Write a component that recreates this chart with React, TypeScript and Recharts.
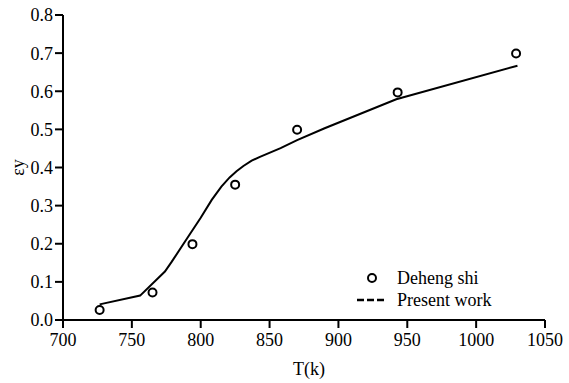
import {
  ComposedChart,
  Line,
  Scatter,
  XAxis,
  YAxis,
} from "recharts";

// measured points (Deheng shi)
const expT = [726.6, 765, 794, 825, 870, 943, 1029];
const expEy = [0.026, 0.072, 0.199, 0.355, 0.499, 0.597, 0.699];

// model curve (Present work)
const modelT = [726.6, 756, 774, 779, 791, 800, 808, 815, 821, 826, 831, 837, 843, 858, 870, 890, 942, 1030];
const modelEy = [0.041, 0.064, 0.127, 0.153, 0.219, 0.268, 0.315, 0.35, 0.374, 0.39, 0.404, 0.418, 0.428, 0.451, 0.472, 0.503, 0.579, 0.667];

const xTicks = [700, 750, 800, 850, 900, 950, 1000, 1050];
const yTicks = [0, 0.1, 0.2, 0.3, 0.4, 0.5, 0.6, 0.7, 0.8];

const expData = expT.map((t, i) => ({ t, ey: expEy[i] }));
const modelData = modelT.map((t, i) => ({ t, fit: modelEy[i] }));

const font = "Times New Roman, Liberation Serif, serif";
const tickStyle = { fill: "#000", fontSize: 18, fontFamily: font };

function LegendBox() {
  // box top-left sits at (357, 260)
  return (
    <svg width={180} height={60} style={{ position: "absolute", left: 357, top: 260, overflow: "visible" }}>
      <circle cx={15} cy={18} r={4} fill="#fff" stroke="#000" strokeWidth={2} />
      <text x={40} y={24} fontSize={18} fill="#000" fontFamily={font}>
        Deheng shi
      </text>
      {/* dashed marker, as drawn in the original legend */}
      <line x1={0} y1={40} x2={29} y2={40} stroke="#000" strokeWidth={2.5} strokeDasharray="7 3" />
      <text x={40} y={46} fontSize={18} fill="#000" fontFamily={font}>
        Present work
      </text>
    </svg>
  );
}

export default function App() {
  return (
    <div style={{ position: "absolute", left: 0, top: 0, width: 569, height: 383, background: "#fff", fontFamily: font }}>
      <ComposedChart
        width={569}
        height={383}
        margin={{ top: 15, right: 24, bottom: 0, left: 0 }}
      >
        <XAxis
          type="number"
          dataKey="t"
          domain={[700, 1050]}
          ticks={xTicks}
          interval={0}
          allowDuplicatedCategory={false}
          height={63}
          tick={tickStyle}
          tickSize={8}
          tickMargin={5}
          axisLine={{ stroke: "#000", strokeWidth: 2 }}
          tickLine={{ stroke: "#000", strokeWidth: 2 }}
          label={{ value: "T(k)", position: "insideBottom", offset: 8, dx: 5, fill: "#000", fontSize: 18, fontFamily: font }}
        />
        <YAxis
          type="number"
          domain={[0, 0.8]}
          ticks={yTicks}
          interval={0}
          width={63}
          tick={tickStyle}
          tickSize={8}
          tickMargin={2}
          tickFormatter={(v: number) => v.toFixed(1)}
          axisLine={{ stroke: "#000", strokeWidth: 2 }}
          tickLine={{ stroke: "#000", strokeWidth: 2 }}
          label={{ value: "εy", angle: -90, position: "center", dx: -14, fill: "#000", fontSize: 18, fontFamily: font }}
        />
        <Line
          data={modelData}
          dataKey="fit"
          type="linear"
          stroke="#000"
          strokeWidth={2}
          dot={false}
          activeDot={false}
          isAnimationActive={false}
          name="Present work"
        />
        <Scatter
          data={expData}
          dataKey="ey"
          shape={(p: any) => (
            <circle cx={p.cx} cy={p.cy} r={4} fill="#fff" stroke="#000" strokeWidth={2} />
          )}
          isAnimationActive={false}
          name="Deheng shi"
        />
      </ComposedChart>
      <LegendBox />
    </div>
  );
}
